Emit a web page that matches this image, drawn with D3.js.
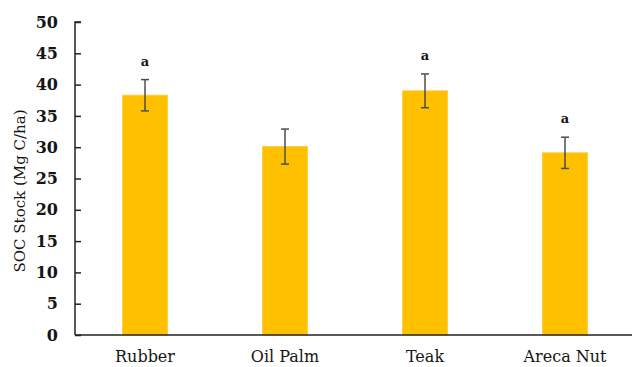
<!DOCTYPE html>
<html>
<head>
<meta charset="utf-8">
<script src="https://cdn.jsdelivr.net/npm/d3@7"></script>
<style>
  html, body { margin: 0; padding: 0; background: #fff; }
  svg { display: block; }
</style>
</head>
<body>
<div id="chart"></div>
<script>
// Soil organic carbon stock by land use
const categories = ["Rubber", "Oil Palm", "Teak", "Areca Nut"];
const socStock   = [38.3, 30.1, 39.0, 29.1];
const stdError   = [2.5, 2.8, 2.7, 2.5];
const letters    = ["a", "", "a", "a"];
const yTicks     = [0, 5, 10, 15, 20, 25, 30, 35, 40, 45, 50];

const width = 632, height = 367;
const margin = { left: 75, top: 22, bottom: 335, right: 635 };
const serif = "DejaVu Serif";
const ink = "#151515";

const svg = d3.select("#chart").append("svg")
  .attr("width", width).attr("height", height);

const x = d3.scaleBand()
  .domain(categories)
  .range([margin.left, margin.right])
  .paddingInner(0.68)
  .paddingOuter(0.34);

const y = d3.scaleLinear()
  .domain([0, 50])
  .range([margin.bottom, margin.top]);

// bars
svg.append("g").selectAll("rect")
  .data(categories)
  .join("rect")
  .attr("x", d => x(d))
  .attr("y", (d, i) => y(socStock[i]))
  .attr("width", x.bandwidth())
  .attr("height", (d, i) => y(0) - y(socStock[i]))
  .attr("fill", "#FFC000")
  .attr("stroke", "#FFCB3A")
  .attr("stroke-width", 1);

// error bars
const eb = svg.append("g").attr("stroke", "#4d4d4d").attr("stroke-width", 1.5);
categories.forEach((c, i) => {
  const cx = x(c) + x.bandwidth() / 2;
  const hi = y(socStock[i] + stdError[i]);
  const lo = y(socStock[i] - stdError[i]);
  eb.append("line").attr("x1", cx).attr("x2", cx).attr("y1", hi).attr("y2", lo);
  eb.append("line").attr("x1", cx - 4).attr("x2", cx + 4).attr("y1", hi).attr("y2", hi);
  eb.append("line").attr("x1", cx - 4).attr("x2", cx + 4).attr("y1", lo).attr("y2", lo);
});

// significance letters
svg.append("g").selectAll("text")
  .data(categories)
  .join("text")
  .attr("x", d => x(d) + x.bandwidth() / 2)
  .attr("y", (d, i) => y(socStock[i] + stdError[i]) - 14)
  .attr("text-anchor", "middle")
  .style("font-family", serif)
  .style("font-size", "13px")
  .style("font-weight", "bold")
  .style("fill", ink)
  .text((d, i) => letters[i]);

// y axis
const yAxis = svg.append("g")
  .attr("transform", `translate(${margin.left},0)`)
  .call(d3.axisRight(y).tickValues(yTicks).tickSize(6).tickFormat(""));
yAxis.select(".domain").attr("d", `M6,${margin.top}H0V${margin.bottom}`);
yAxis.selectAll("line, path").attr("stroke", "#222").attr("stroke-width", 1.5);

svg.append("g").selectAll("text")
  .data(yTicks)
  .join("text")
  .attr("x", 58)
  .attr("y", d => y(d))
  .attr("dy", "0.35em")
  .attr("text-anchor", "end")
  .style("font-family", serif)
  .style("font-size", "16px")
  .style("font-weight", "bold")
  .style("fill", ink)
  .text(d => d);

// x axis
const xAxis = svg.append("g")
  .attr("transform", `translate(0,${margin.bottom})`)
  .call(d3.axisBottom(x).tickSize(0).tickPadding(16));
xAxis.select(".domain").attr("d", `M${margin.left},0H${width}`)
  .attr("stroke", "#222").attr("stroke-width", 1.5);
xAxis.selectAll("text")
  .style("font-family", serif)
  .style("font-size", "16px")
  .style("fill", ink);

// y title
svg.append("text")
  .attr("transform", "translate(25,191) rotate(-90)")
  .attr("text-anchor", "middle")
  .style("font-family", serif)
  .style("font-size", "15px")
  .style("fill", ink)
  .text("SOC Stock (Mg C/ha)");
</script>
</body>
</html>
